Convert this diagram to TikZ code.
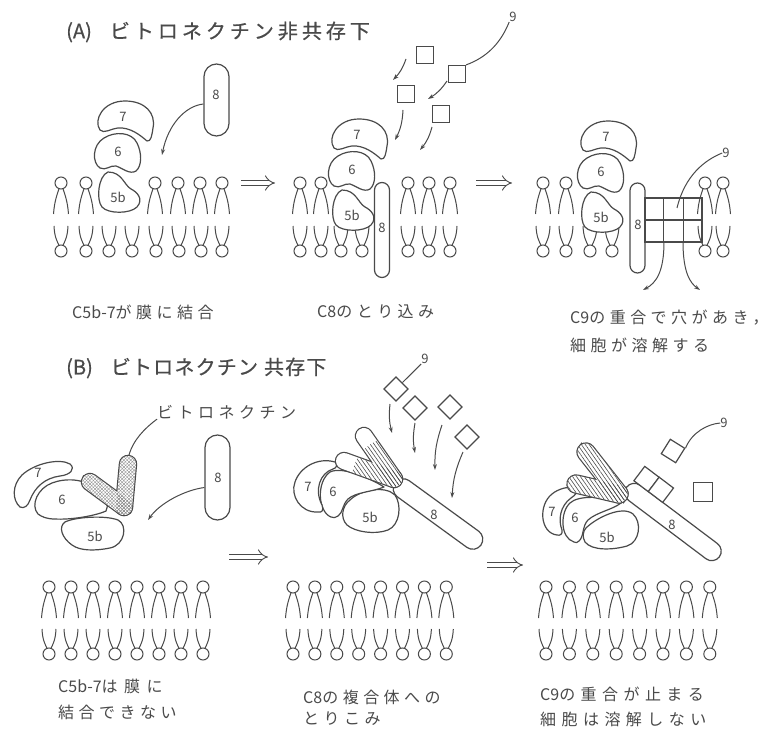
\documentclass[tikz,border=0pt]{standalone}
\usepackage{fontspec}
\newfontfamily\jp{Noto Sans CJK JP}
\usetikzlibrary{calc,arrows.meta,patterns.meta}
\definecolor{ink}{HTML}{4A4A4A}

% Latin text inside letter-spaced Japanese
\newcommand\lat[1]{{\addfontfeature{LetterSpace=0}#1}}

\tikzset{
  lip/.style={draw=ink,line width=1pt},
  part/.style={draw=ink,line width=1.2pt,fill=white,line join=round},
  rod/.style={draw=ink,line width=1.2pt,fill=white,inner sep=0pt},
  sq/.style={draw=ink,line width=1.2pt,fill=white,minimum size=#1,inner sep=0pt},
  sq/.default=17pt,
  num/.style={text=ink,inner sep=0pt,font=\fontsize{13}{13}\selectfont\jp},
  cap/.style={text=ink,anchor=west,inner sep=0pt,font=\fontsize{16}{16}\selectfont\jp\addfontfeature{LetterSpace=#1}},
  cap/.default=28,
  ttl/.style={text=ink,anchor=west,inner sep=0pt,font=\fontsize{20}{20}\selectfont\jp\addfontfeature{LetterSpace=#1,FakeBold=0.6}},
  arr/.style={draw=ink,line width=1pt,-{Stealth[length=6pt,width=4pt]}},
  lead/.style={draw=ink,line width=1pt},
  dbl/.style={draw=ink,line width=0.9pt,double=white,double distance=4.5pt,-{Implies}},
  % one arm of the V-shaped vitronectin (a stadium); #1 = half width
  arm/.style={inner sep=0pt,rounded corners=#1,minimum height=2*#1},
  armline/.style={arm=#1,draw=ink,line width=2.4pt},
  armfill/.style={arm=#1,fill=white},
  hatchA/.style={pattern={Lines[angle=45,distance=2.4pt,line width=0.35pt]},pattern color=ink!65},
  hatchB/.style={pattern={Lines[angle=-45,distance=2.4pt,line width=0.35pt]},pattern color=ink!65},
  hatchC/.style={pattern={Lines[angle=-55,distance=3.2pt,line width=0.6pt]},pattern color=ink},
  lipidtop/.pic={
    \draw[lip] (0,0) circle[radius=6pt];
    \draw[lip] (-2,5.7) .. controls (-4,12) and (-6.5,18) .. (-7.5,31);
    \draw[lip] (2,5.7) .. controls (4,12) and (6.5,18) .. (7.5,31);
  },
  lipidbot/.pic={
    \draw[lip] (0,0) circle[radius=6pt];
    \draw[lip] (-2,-5.7) .. controls (-4,-10) and (-6.5,-14) .. (-7,-25);
    \draw[lip] (2,-5.7) .. controls (4,-10) and (6.5,-14) .. (7,-25);
  }
}

\begin{document}
\begin{tikzpicture}[x=1pt,y=-1pt]
\useasboundingbox (0,0) rectangle (771,730);
\fill[white] (0,0) rectangle (771,730);

% ---------- membranes ----------
\foreach \x in {61,86,155,178,200,222,300,321,408,429,450,543,566,705,723}
  \pic at (\x,183) {lipidtop};
\foreach \x in {61,86,109,132,156,179,201,222,300,321,341,362,408,429,450,543,566,590,612,705,723}
  \pic at (\x,251) {lipidbot};
\foreach \k in {0,...,7}{
  \pic at ({49+22*\k},587) {lipidtop};
  \pic at ({49+22*\k},654) {lipidbot};
  \pic at ({293+21.9*\k},587) {lipidtop};
  \pic at ({293+21.9*\k},654) {lipidbot};
  \pic at ({546+23.4*\k},587) {lipidtop};
  \pic at ({546+23.4*\k},654) {lipidbot};
}

% ---------- titles ----------
\node[ttl=20] (ttlA) at (66,32) {\lat{(A)}\hspace{18pt}ビトロネクチン非共存下};
\node[ttl=6] (ttlB) at (66,368) {\lat{(B)}\hspace{18pt}ビトロネクチン\hspace{6pt}共存下};

% ---------- (A) C5b-7 on the membrane ----------
\foreach \dx/\dy/\p in {0/0/aL,234/18/aM,483/20/aR}{
  \begin{scope}[shift={(\dx,\dy)}]
    \draw[part] (108,172) .. controls (98,176) and (96,200) .. (102,207) .. controls (108,214) and (130,214) .. (137,207) .. controls (144,199) and (137,192) .. (131,189) .. controls (124,185) and (122,172) .. (108,172) -- cycle;
    \draw[part] (100,168) .. controls (92,163) and (92,145) .. (104,138) .. controls (115,131) and (132,132) .. (137,143) .. controls (142,153) and (142,166) .. (136,171) .. controls (130,175) and (122,168) .. (116,166) .. controls (110,165) and (106,171) .. (100,168) -- cycle;
    \draw[part] (100,130) .. controls (93,120) and (103,101) .. (125,101) .. controls (145,101) and (156,113) .. (153,128) .. controls (152,135) and (151,142) .. (147,141) .. controls (140,135) and (130,127) .. (118,128) .. controls (110,129) and (104,134) .. (100,130) -- cycle;
    \node[num] (\p7) at (123,117) {7};
    \node[num] (\p6) at (118,152) {6};
    \node[num] (\p5) at (118,197) {5b};
  \end{scope}
}

% A left: free C8
\node[rod,minimum width=25pt,minimum height=72pt,rounded corners=12.5pt] (aLrod) at (216.5,100) {};
\node[num] (aL8) at (216,95) {8};
\coordinate (aLtip) at (162,155);
\draw[arr] ($(aLrod.west)+(0,4)$) .. controls (185,106) and (168,125) .. (aLtip);

% A middle: C8 inserted, C9 approaching
\node[rod,minimum width=15pt,minimum height=95pt,rounded corners=7.5pt] (aMrod) at (382,230) {};
\node[num] (aM8) at (382,228) {8};
\node[sq] (aMq1) at (425,55) {};
\node[sq] (aMq2) at (457,74) {};
\node[sq] (aMq3) at (406,94) {};
\node[sq] (aMq4) at (441,114) {};
\coordinate (aMs1) at (406,59);  \coordinate (aMe1) at (393,80);
\coordinate (aMs2) at (447,81);  \coordinate (aMe2) at (428,99);
\coordinate (aMs3) at (403,110); \coordinate (aMe3) at (395,140);
\coordinate (aMs4) at (432,127); \coordinate (aMe4) at (420,150);
\foreach \i in {1,...,4} \draw[arr] (aMs\i) to[bend left=12] (aMe\i);
\node[num] (aMnine) at (513,17) {9};
\draw[lead] (aMq2.north east) .. controls (485,58) and (500,45) .. (aMnine.south west);

% A right: C9 polymer forms a pore
\node[rod,minimum width=15pt,minimum height=90pt,rounded corners=7.5pt] (aRrod) at (637.5,228) {};
\node[num] (aR8) at (638,225) {8};
\node[draw=ink,line width=1.2pt,minimum width=57pt,minimum height=44pt,inner sep=0pt] (aRgrid) at (673.5,220) {};
\draw[lip,line width=1.2pt] ($(aRgrid.north west)!1/3!(aRgrid.north east)$) -- ($(aRgrid.south west)!1/3!(aRgrid.south east)$);
\draw[lip,line width=1.2pt] ($(aRgrid.north west)!2/3!(aRgrid.north east)$) -- ($(aRgrid.south west)!2/3!(aRgrid.south east)$);
\draw[lip,line width=1.2pt] (aRgrid.west) -- (aRgrid.east);
\coordinate (aRg) at (677,208);
\node[num] (aRnine) at (726,153) {9};
\draw[lead] (aRnine.west) .. controls (705,160) and (685,175) .. (aRg);
\coordinate (aRp1) at (664,242); \coordinate (aRq1) at (643,290);
\coordinate (aRp2) at (683,242); \coordinate (aRq2) at (700,290);
\draw[arr] (aRp1) .. controls (664,272) and (656,283) .. (aRq1);
\draw[arr] (aRp2) .. controls (683,272) and (690,283) .. (aRq2);

% ---------- (B) left: complex held by vitronectin ----------
\draw[part] (65,522) .. controls (75,517) and (105,515) .. (118,520) .. controls (128,525) and (125,545) .. (110,548) .. controls (95,551) and (80,551) .. (72,545) .. controls (62,538) and (58,527) .. (65,522) -- cycle;
\draw[part] (20,507) .. controls (12,500) and (12,485) .. (22,475) .. controls (35,463) and (60,458) .. (70,464) .. controls (76,469) and (70,475) .. (60,476) .. controls (45,478) and (35,487) .. (30,500) .. controls (28,506) and (24,509) .. (20,507) -- cycle;
\draw[part] (38,514) .. controls (30,505) and (38,488) .. (52,483) .. controls (65,478) and (85,478) .. (97,490) .. controls (104,498) and (110,506) .. (106,511) .. controls (95,516) and (70,520) .. (55,519) .. controls (47,519) and (42,517) .. (38,514) -- cycle;
% vitronectin: outline, white body, cross hatching
\foreach \n/\cx/\cy/\L/\a in {vlA/126/485.5/59.2/-95.3, vlB/107/494.5/58.2/-36.3}
  \node[armline=8pt,minimum width={\L pt},rotate=\a] (\n-o) at (\cx,\cy) {};
\foreach \n/\cx/\cy/\L/\a in {vlA/126/485.5/59.2/-95.3, vlB/107/494.5/58.2/-36.3}
  \node[armfill=8pt,minimum width={\L pt},rotate=\a] (\n) at (\cx,\cy) {};
\foreach \n/\cx/\cy/\L/\a in {vlA/126/485.5/59.2/-95.3, vlB/107/494.5/58.2/-36.3}{
  \node[arm=8pt,hatchA,minimum width={\L pt},rotate=\a] (\n-h) at (\cx,\cy) {};
  \node[arm=8pt,hatchB,minimum width={\L pt},rotate=\a] (\n-k) at (\cx,\cy) {};
}
\node[num] (bL7) at (38,473) {7};
\node[num] (bL6) at (62,500) {6};
\node[num] (bL5) at (95,536) {5b};
\node[cap=28] (vlab) at (157,412) {ビトロネクチン};
\draw[lead] (vlab.south west) .. controls (145,428) and (133,440) .. (vlA.west);
\node[rod,minimum width=25pt,minimum height=85pt,rounded corners=12.5pt] (bLrod) at (217.5,477.5) {};
\node[num] (bL8) at (218,478) {8};
\coordinate (bLtip) at (148,520);
\draw[arr] ($(bLrod.west)+(0,10)$) .. controls (185,490) and (160,503) .. (bLtip);

% ---------- (B) middle ----------
\node[rod,minimum width=106pt,minimum height=20pt,rounded corners=10pt,rotate=-36] (bMrod) at (438,514) {};
\draw[part] (350,500) .. controls (360,490) and (385,485) .. (395,495) .. controls (402,505) and (400,525) .. (388,530) .. controls (375,535) and (355,532) .. (347,525) .. controls (340,518) and (342,506) .. (350,500) -- cycle;
\draw[part] (331,517) .. controls (318,512) and (316,482) .. (330,472) .. controls (342,466) and (370,478) .. (384,487) .. controls (372,492) and (356,492) .. (348,499) .. controls (342,505) and (343,513) .. (338,516) .. controls (336,518) and (333,518) .. (331,517) -- cycle;
\draw[part] (318,512) .. controls (300,513) and (290,495) .. (295,482) .. controls (300,467) and (318,457) .. (335,462) .. controls (338,464) and (337,468) .. (333,469) .. controls (320,473) and (314,490) .. (322,505) .. controls (324,510) and (322,513) .. (318,512) -- cycle;
\foreach \n/\cx/\cy/\L/\a in {vmA/379/457.5/68.4/-55.1, vmB/369/470/69.1/-19.8}
  \node[armline=8pt,minimum width={\L pt},rotate=\a] (\n-o) at (\cx,\cy) {};
\foreach \n/\cx/\cy/\L/\a in {vmA/379/457.5/68.4/-55.1, vmB/369/470/69.1/-19.8}
  \node[armfill=8pt,minimum width={\L pt},rotate=\a] (\n) at (\cx,\cy) {};
\begin{scope}
  \clip (394,479) circle[radius=42pt];
  \foreach \n/\cx/\cy/\L/\a in {vmA/379/457.5/68.4/-55.1, vmB/369/470/69.1/-19.8}
    \node[arm=8pt,hatchC,minimum width={\L pt},rotate=\a] (\n-h) at (\cx,\cy) {};
\end{scope}
\node[num] (bM7) at (308,487) {7};
\node[num] (bM6) at (333,492) {6};
\node[num] (bM5) at (370,517) {5b};
\node[num] (bM8) at (434,515) {8};
\node[sq,rotate=45] (bMq1) at (396,389) {};
\node[sq,rotate=45] (bMq2) at (415,408) {};
\node[sq,rotate=45] (bMq3) at (450,407) {};
\node[sq,rotate=45] (bMq4) at (467,437) {};
\node[num] (bMnine) at (425,359) {9};
\draw[lead] (bMnine.south west) -- (bMq1.east);
\coordinate (bMs1) at (390,404); \coordinate (bMe1) at (392,433);
\coordinate (bMs2) at (415,423); \coordinate (bMe2) at (415,453);
\coordinate (bMs3) at (442,425); \coordinate (bMe3) at (435,470);
\coordinate (bMs4) at (463,452); \coordinate (bMe4) at (452,498);
\foreach \i in {1,...,4} \draw[arr] (bMs\i) to[bend right=10] (bMe\i);

% ---------- (B) right ----------
\node[rod,minimum width=116pt,minimum height=19pt,rounded corners=9.5pt,rotate=-37] (bRrod) at (673,522) {};
\node[sq=18pt,rotate=-37] (bRq1) at (646.5,479) {};
\node[sq=18pt,rotate=-37] (bRq2) at (660.9,489.8) {};
\node[sq,rotate=-32] (bRq3) at (673,451) {};
\node[sq=19pt] (bRq4) at (703,492) {};
\draw[part] (586,528) .. controls (596,518) and (622,505) .. (633,514) .. controls (642,522) and (640,542) .. (627,546) .. controls (613,550) and (592,551) .. (585,542) .. controls (582,537) and (583,531) .. (586,528) -- cycle;
\draw[part] (574,542) .. controls (560,538) and (560,512) .. (570,503) .. controls (578,495) and (605,496) .. (621,503) .. controls (612,510) and (597,512) .. (588,520) .. controls (582,526) and (584,537) .. (579,541) .. controls (577,543) and (576,543) .. (574,542) -- cycle;
\draw[part] (557,535) .. controls (540,533) and (538,505) .. (552,494) .. controls (558,489) and (568,486) .. (575,488) .. controls (579,490) and (576,495) .. (571,498) .. controls (560,506) and (558,520) .. (562,530) .. controls (563,534) and (560,536) .. (557,535) -- cycle;
\foreach \n/\cx/\cy/\L/\a in {vrA/602.5/473/70.4/-51.8, vrB/597.5/489/61.1/-13.1}
  \node[armline=8.5pt,minimum width={\L pt},rotate=\a] (\n-o) at (\cx,\cy) {};
\foreach \n/\cx/\cy/\L/\a in {vrA/602.5/473/70.4/-51.8, vrB/597.5/489/61.1/-13.1}
  \node[armfill=8.5pt,minimum width={\L pt},rotate=\a] (\n) at (\cx,\cy) {};
\foreach \n/\cx/\cy/\L/\a in {vrA/602.5/473/70.4/-51.8, vrB/597.5/489/61.1/-13.1}
  \node[arm=8.5pt,hatchC,minimum width={\L pt},rotate=\a] (\n-h) at (\cx,\cy) {};
\node[num] (bR7) at (552,512) {7};
\node[num] (bR6) at (575,518) {6};
\node[num] (bR5) at (607,537) {5b};
\node[num] (bR8) at (672,525) {8};
\node[num] (bRnine) at (724,423) {9};
\draw[lead] (bRnine.west) .. controls (708,424) and (692,432) .. (bRq3.north east);

% ---------- process arrows ----------
\coordinate (d1s) at (241,183); \coordinate (d1e) at (275,183);
\coordinate (d2s) at (476,183); \coordinate (d2e) at (512,183);
\coordinate (d3s) at (229,557); \coordinate (d3e) at (268,557);
\coordinate (d4s) at (487,565); \coordinate (d4e) at (523,565);
\foreach \i in {1,...,4} \draw[dbl] (d\i s) -- (d\i e);

% ---------- captions ----------
\node[cap] (cA1) at (72,312) {\lat{C5b-7}が膜に結合};
\node[cap] (cA2) at (317,312) {\lat{C8}のとり込み};
\node[cap] (cA3a) at (570,318) {\lat{C9}の重合で穴があき，};
\node[cap] (cA3b) at (570,345) {細胞が溶解する};
\node[cap=40] (cB1a) at (58,686) {\lat{C5b-7}は膜に};
\node[cap] (cB1b) at (58,712) {結合できない};
\node[cap] (cB2a) at (303,697) {\lat{C8}の複合体への};
\node[cap] (cB2b) at (303,719) {とりこみ};
\node[cap=34] (cB3a) at (540,694) {\lat{C9}の重合が止まる};
\node[cap=34] (cB3b) at (540,719) {細胞は溶解しない};
\end{tikzpicture}
\end{document}
